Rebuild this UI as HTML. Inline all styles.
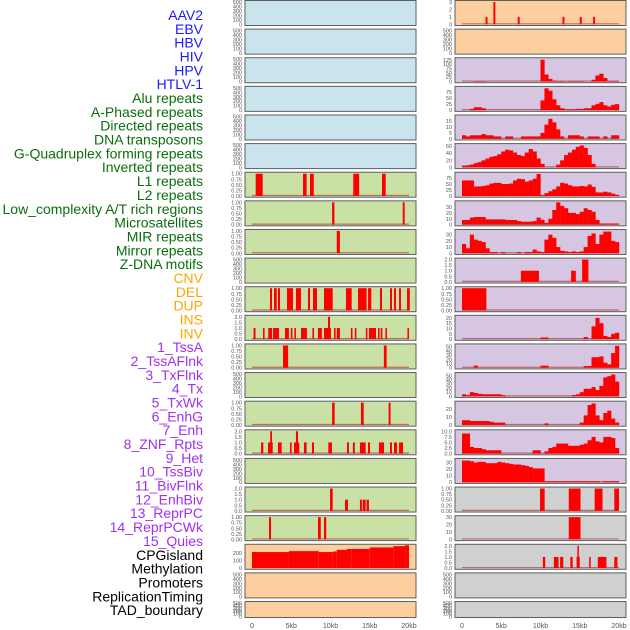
<!DOCTYPE html>
<html><head><meta charset="utf-8"><style>
html,body{margin:0;padding:0;background:#fff;}
svg{display:block;font-family:"Liberation Sans",sans-serif;}
</style></head><body>
<svg id="chart" width="630" height="630" viewBox="0 0 630 630" xmlns="http://www.w3.org/2000/svg">
<g id="labels"></g>
<g id="panels"></g>
<g id="xaxes"></g>
</svg>
<script>
const rowLabels=["AAV2","EBV","HBV","HIV","HPV","HTLV-1","Alu repeats","A-Phased repeats","Directed repeats","DNA transposons","G-Quadruplex forming repeats","Inverted repeats","L1 repeats","L2 repeats","Low_complexity A/T rich regions","Microsatellites","MIR repeats","Mirror repeats","Z-DNA motifs","CNV","DEL","DUP","INS","INV","1_TssA","2_TssAFlnk","3_TxFlnk","4_Tx","5_TxWk","6_EnhG","7_Enh","8_ZNF_Rpts","9_Het","10_TssBiv","11_BivFlnk","12_EnhBiv","13_ReprPC","14_ReprPCWk","15_Quies","CPGisland","Methylation","Promoters","ReplicationTiming","TAD_boundary"];
const labelGroups=[6,13,5,15,5];
const xTicks=[0,5,10,15,20];
const xTickLabels=["0","5kb","10kb","15kb","20kb"];

// Left column segment data: [startKb, endKb, value]
const lRow6=[[0.47,1.36,1],[6.5,6.96,1],[7.39,7.87,1],[12.9,13.65,1],[16.56,17.03,1]];
const lRow7=[[10.2,10.5,1],[19.2,19.45,1]];
const lRow8=[[10.8,11.2,1]];
const lRow10=[[2.29,2.55,1],[2.8,3.15,1],[3.31,3.57,1],[4.46,5.22,1],[5.6,6.24,1],[7.13,7.39,1],[7.77,8.28,1],[9.17,10.28,1],[11.97,12.7,1],[13.5,14.6,1],[14.78,15.2,1],[16.3,16.56,1],[17.58,17.83,1],[18.09,18.34,1],[18.73,18.98,1],[19.75,20.1,1]];
const lRow11=[[0.2,0.45,1],[1.4,1.6,1],[2.07,2.55,1],[2.68,3.44,1],[4.2,4.7,1],[4.95,5.15,1],[5.4,5.6,1],[6.24,7.0,1],[7.7,7.9,1],[8.4,8.9,1],[9.17,10.06,1],[9.68,9.94,2],[10.45,10.65,1],[10.8,11.2,1],[12.6,12.8,1],[13.1,13.3,1],[14.5,14.7,1],[14.9,15.8,1],[16.05,16.25,1],[16.4,16.6,1],[17.0,17.2,1],[19.8,20.0,1]];
const lRow12=[[3.95,4.6,1],[16.8,17.15,1]];
const lRow14=[[10.2,10.53,1],[13.88,14.23,1],[17.4,17.65,1]];
const lRow15=[[1.15,1.44,1],[2.04,2.64,1],[2.32,2.55,2],[3.31,3.78,1],[4.84,5.05,1],[5.35,6.02,1],[5.6,5.86,2],[6.62,6.96,1],[7.64,7.9,1],[9.72,10.19,1],[12.1,12.35,1],[12.86,13.1,1],[13.75,14.48,1],[14.78,15.03,1],[16.17,16.82,1],[17.58,17.83,1],[18.09,18.47,1],[18.73,19.24,1]];
const lRow17=[[9.94,10.28,2],[11.85,12.23,1],[13.75,14.0,1],[14.1,14.48,1],[14.6,14.9,1]];
const lRow18=[[2.17,2.42,1],[8.41,8.76,1],[9.17,9.46,1]];
const lRow19=[[0,4.7,212],[4.7,8.5,224],[8.5,10.3,212],[10.3,10.8,220],[10.8,12.1,241],[12.1,12.7,253],[12.7,15.0,253],[15.0,18.0,273],[18.0,19.5,290],[19.5,20.0,302]];

// Right column segment data
const rRow0=[[3.0,3.25,1],[4.0,4.25,3],[7.1,7.35,1],[12.8,13.05,1],[15.0,15.25,1],[16.7,16.95,1]];
const rRow9=[[7.5,9.8,1],[13.9,14.5,1],[15.3,16.1,2]];
const rRow10=[[0,3.1,1]];
const rRow17=[[9.94,10.53,1],[13.6,15.1,1],[16.9,17.9,1],[19.4,20.0,1]];
const rRow18=[[13.6,15.1,30]];
const rRow19=[[10.3,10.6,1],[11.7,12.3,1],[12.5,12.9,1],[13.8,14.1,1],[14.6,15.0,1],[14.7,14.85,2],[16.2,16.4,1],[17.3,18.4,1],[19.4,19.8,1]];

// Right column binned data (0.5 kb bins, 0..20 kb)
const rRow2=[0,0,0,3,3,3,0,0,0,0,0,0,0,0,0,0,0,0,0,0,125,40,15,5,3,3,0,3,3,3,3,0,0,10,35,45,20,3,3,3];
const rRow3=[0,0,5,12,12,8,0,0,0,0,0,0,0,0,0,0,0,0,0,0,40,90,80,45,20,8,3,3,3,5,5,8,8,20,25,33,20,15,22,25];
const rRow4=[3,2,3,3,3,4,3,3,2,2,0,2,2,0,0,2,2,2,2,2,5,12,17,14,8,2,0,3,3,3,2,0,2,2,2,0,2,0,3,3];
const rRow5=[5,6,8,12,15,20,25,30,32,37,45,50,48,42,35,32,42,52,45,25,10,0,0,0,8,20,35,42,50,58,62,55,35,10,0,0,0,0,0,0];
const rRow6=[65,65,65,40,40,42,45,52,55,55,50,50,52,65,72,70,60,65,72,92,3,12,20,28,40,55,52,45,40,40,42,40,48,38,15,15,18,15,10,5];
const rRow7=[8,8,12,13,13,13,9,9,9,9,9,8,8,8,6,5,5,5,6,12,8,3,10,25,38,32,28,20,20,18,22,28,25,22,8,2,2,2,2,2];
const rRow8=[15,8,30,22,20,18,8,2,2,0,2,0,0,0,2,0,2,2,6,3,2,22,30,25,10,4,3,2,3,2,3,10,28,32,15,30,35,35,20,18];
const rRow11=[0,0,0,0,0,0,0,0,0,0,0,0,0,0,0,0,0,0,0,0,1.5,1.5,0,0,0,0,0,0,0,0,0,2,0,12,20,15,3,2,5,6];
const rRow12=[0,0,0,5,0,0,0,0,0,0,0,0,0,0,0,0,0,0,0,0,5,5,0,0,0,0,0,0,0,0,0,4,4,25,25,27,12,8,35,52];
const rRow13=[5,3,10,8,6,5,5,5,5,5,3,0,0,0,0,0,0,0,0,0,0,0,0,0,0,0,0,0,3,5,10,18,18,22,15,25,45,48,52,35];
const rRow14=[6,6,5,5,5,5,5,4,3,3,3,0,0,0,0,0,0,0,0,0,0,2,0,0,0,0,0,0,0,0,3,12,25,27,12,6,15,18,8,3];
const rRow15=[9,9,3,2.5,2.5,2,1.5,1.5,1.5,1.5,0,0,0,0,0,0,0,0,1.5,1.5,0,1,2.5,3,4.5,4.5,4.5,3.5,3.5,3.5,4,4.5,6,7.5,5.5,5,7.5,7.5,7,2.5];
const rRow16=[33,33,32,30,31,31,29,29,29,31,30,29,28,27,27,26,25,23,21,21,21,1.5,1.5,1.5,1.5,1.5,1.5,1.5,1.5,1.5,1.5,1.5,1.5,1.5,1.5,0,1.5,1.5,1.5,1.5];

const BLUE="#c9e4ec",GREEN="#c9e1a5",ORANGE="#fecf9e",PURPLE="#d6c6e2",GRAY="#d0d0d0";
const t500=[0,100,200,300,400,500], t1=[0,0.25,0.5,0.75,1], t2=[0,0.5,1,1.5,2];
const panels=[];
function P(side,row,bg,yMax,ticks,segs,bins,name){panels.push({side,row,bg,yMax,ticks,segs,bins,name});}
for(let r=0;r<6;r++)P('L',r,BLUE,500,t500,null,null,'empty');
P('L',6,GREEN,1,t1,lRow6,null,'l1');
P('L',7,GREEN,1,t1,lRow7,null,'l2');
P('L',8,GREEN,1,t1,lRow8,null,'l8');
P('L',9,GREEN,500,t500,null,null,'empty');
P('L',10,GREEN,1,t1,lRow10,null,'l10');
P('L',11,GREEN,2,t2,lRow11,null,'l11');
P('L',12,GREEN,1,t1,lRow12,null,'l12');
P('L',13,GREEN,500,t500,null,null,'empty');
P('L',14,GREEN,1,t1,lRow14,null,'l14');
P('L',15,GREEN,2,t2,lRow15,null,'l15');
P('L',16,GREEN,500,t500,null,null,'empty');
P('L',17,GREEN,2,t2,lRow17,null,'l17');
P('L',18,GREEN,1,t1,lRow18,null,'l18');
P('L',19,ORANGE,295,[0,100,200],lRow19,null,'l19');
P('L',20,ORANGE,500,t500,null,null,'empty');
P('L',21,ORANGE,500,t500,null,null,'empty');
P('R',0,ORANGE,3,[0,1,2,3],rRow0,null,'r0');
P('R',1,ORANGE,500,t500,null,null,'empty');
P('R',2,PURPLE,128,[0,25,50,75,100,125],null,rRow2,'r2');
P('R',3,PURPLE,92,[0,25,50,75],null,rRow3,'r3');
P('R',4,PURPLE,19,[0,5,10,15],null,rRow4,'r4');
P('R',5,PURPLE,63,[0,20,40,60],null,rRow5,'r5');
P('R',6,PURPLE,93,[0,25,50,75],null,rRow6,'r6');
P('R',7,PURPLE,38,[0,10,20,30],null,rRow7,'r7');
P('R',8,PURPLE,36,[0,10,20,30],null,rRow8,'r8');
P('R',9,PURPLE,2,t2,rRow9,null,'r9');
P('R',10,PURPLE,1,t1,rRow10,null,'r10');
P('R',11,PURPLE,21,[0,5,10,15,20],null,rRow11,'r11');
P('R',12,PURPLE,53,[0,10,20,30,40,50],null,rRow12,'r12');
P('R',13,PURPLE,53,[0,10,20,30,40,50],null,rRow13,'r13');
P('R',14,PURPLE,28,[0,10,20],null,rRow14,'r14');
P('R',15,PURPLE,10,[0,2.5,5,7.5,10],null,rRow15,'r15');
P('R',16,PURPLE,34,[0,10,20,30],null,rRow16,'r16');
P('R',17,GRAY,1,t1,rRow17,null,'r17');
P('R',18,GRAY,30,[0,10,20,30],rRow18,null,'r18');
P('R',19,GRAY,2,t2,rRow19,null,'r19');
P('R',20,GRAY,500,t500,null,null,'empty');
P('R',21,GRAY,500,t500,null,null,'empty');

const NS="http://www.w3.org/2000/svg";
function mk(tag,attrs,parent){const e=document.createElementNS(NS,tag);for(const k in attrs)e.setAttribute(k,attrs[k]);parent.appendChild(e);return e;}
const rowStep=28.62;
function rowTop(r){return r*rowStep+0.5;}
function rowH(r){return r===21?16:25;}
function panelX(side){return side==='L'?245:455;}
function xScale(side,kb){return (side==='L'?252:462)+kb*7.85;}
function yScale(p,v){const t=rowTop(p.row),h=rowH(p.row);const bot=t+h-1.2,top=t+1.5;return bot-(v/p.yMax)*(bot-top);}
function fmt(p,v){if(p.yMax===1)return v.toFixed(2);if(p.yMax===2||p.yMax===10)return v.toFixed(1);return String(v);}

const lg=document.getElementById('labels');
const colors=["#1a1aff","#0b6e0b","#ffa500","#a030f0","#000000"];
let idx=0;
labelGroups.forEach((n,g)=>{for(let i=0;i<n;i++){const t=mk('text',{x:203,y:15+idx*13.84+5,'text-anchor':'end','font-size':'14',fill:colors[g]},lg);t.textContent=rowLabels[idx];


idx++;}});

const pg=document.getElementById('panels');
panels.forEach(p=>{
  const g=mk('g',{},pg);
  
  
  const x0=panelX(p.side),t=rowTop(p.row),h=rowH(p.row);
  const bg=mk('rect',{x:x0,y:t,width:171,height:h,fill:p.bg,stroke:'#5e5e5e','stroke-width':1},g);
  
  
  p.ticks.forEach(v=>{const tx=mk('text',{x:x0-3,y:yScale(p,v)+2,'text-anchor':'end','font-size':'5.5',fill:'#555'},g);tx.textContent=fmt(p,v);
    
    });
  if(p.segs||p.bins){
    const bl=mk('line',{x1:xScale(p.side,0),x2:xScale(p.side,20),y1:yScale(p,0)-0.5,y2:yScale(p,0)-0.5,stroke:'#b04040','stroke-width':1.2,opacity:0.7},g);
    
    
  }
  if(p.segs){p.segs.forEach(s=>{const xa=xScale(p.side,s[0]),xb=xScale(p.side,s[1]);const ya=yScale(p,s[2]),yb=yScale(p,0);
    const r=mk('rect',{x:xa,y:ya,width:Math.max(1.5,xb-xa),height:yb-ya,fill:'#ff0000'},g);
    
    });}
  if(p.bins){p.bins.forEach((v,i)=>{if(v<=0)return;const xa=xScale(p.side,i*0.5),xb=xScale(p.side,i*0.5+0.5);const ya=yScale(p,v),yb=yScale(p,0);
    const r=mk('rect',{x:xa,y:ya,width:xb-xa+0.2,height:yb-ya,fill:'#ff0000'},g);
    
    });}
});

const xg=document.getElementById('xaxes');
['L','R'].forEach(side=>{xTicks.forEach((v,i)=>{const t=mk('text',{x:xScale(side,v),y:628,'text-anchor':'middle','font-size':'7',fill:'#555'},xg);t.textContent=xTickLabels[i];
  
  });});
</script>
</body></html>
